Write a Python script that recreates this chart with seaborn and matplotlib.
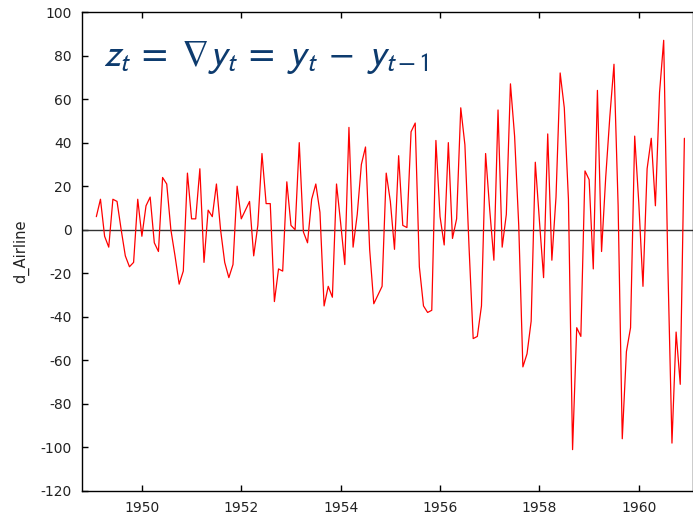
import numpy as np
import pandas as pd
import matplotlib
matplotlib.use("Agg")
import matplotlib.pyplot as plt
import seaborn as sns

# First differences of monthly airline passengers, Feb 1949 .. Dec 1960
d_airline = [
    6, 14, -3, -8, 14, 13, 0, -12, -17, -15, 14,
    -3, 11, 15, -6, -10, 24, 21, 0, -12, -25, -19, 26,
    5, 5, 28, -15, 9, 6, 21, 0, -15, -22, -16, 20,
    5, 9, 13, -12, 2, 35, 12, 12, -33, -18, -19, 22,
    2, 0, 40, -1, -6, 14, 21, 8, -35, -26, -31, 21,
    3, -16, 47, -8, 7, 30, 38, -9, -34, -30, -26, 26,
    13, -9, 34, 2, 1, 45, 49, -17, -35, -38, -37, 41,
    6, -7, 40, -4, 5, 56, 39, -8, -50, -49, -35, 35,
    9, -14, 55, -8, 7, 67, 43, 2, -63, -57, -42, 31,
    4, -22, 44, -14, 15, 72, 56, 14, -101, -45, -49, 27,
    23, -18, 64, -10, 24, 52, 76, 11, -96, -56, -45, 43,
    12, -26, 28, 42, 11, 63, 87, -16, -98, -47, -71, 42,
]
start_year = 1949
start_month = 2  # first differenced observation
year_ticks = [1950, 1952, 1954, 1956, 1958, 1960]
y_ticks = list(range(-120, 101, 20))

months = np.arange(len(d_airline))
time = start_year + (start_month - 1 + months) / 12.0
df = pd.DataFrame({"time": time, "d_Airline": d_airline})

sns.set_theme(style="white")
plt.rcParams["font.family"] = ["DejaVu Sans"]
plt.rcParams["axes.unicode_minus"] = False
plt.rcParams["mathtext.fontset"] = "stixsans"

fig = plt.figure(figsize=(6.93, 5.21), dpi=100)
ax = fig.add_axes([81.5 / 693, 30 / 521, (693 - 81.5) / 693, (491 - 12) / 521])

ax.axhline(0, color="#333333", lw=1.0, zorder=1)
sns.lineplot(data=df, x="time", y="d_Airline", color="red", lw=0.9, ax=ax, zorder=2)

ax.set_xlim(1948.785, 1961.09)
ax.set_ylim(-120, 100)
ax.set_xticks(year_ticks)
ax.set_yticks(y_ticks)
ax.set_xlabel("")
ax.set_ylabel("d_Airline", fontsize=10.5, color="#222222", labelpad=8)

for s in ax.spines.values():
    s.set_color("black")
    s.set_linewidth(1.0)

ax.tick_params(axis="both", direction="in", length=4, width=1, colors="black",
               labelsize=10, labelcolor="#222222", top=True, bottom=True, left=True, right=False)
ax.tick_params(axis="x", pad=7)
ax.tick_params(axis="y", pad=7)

formula = r"$z_t\;=\;\nabla y_t\;=\;y_t\;-\;y_{t-1}$"
ax.text(21.5 / 611.5, 0.905, formula, transform=ax.transAxes,
        fontsize=27, color="#0d3b6e", ha="left", va="center")

fig.savefig("out.png", dpi=100)
